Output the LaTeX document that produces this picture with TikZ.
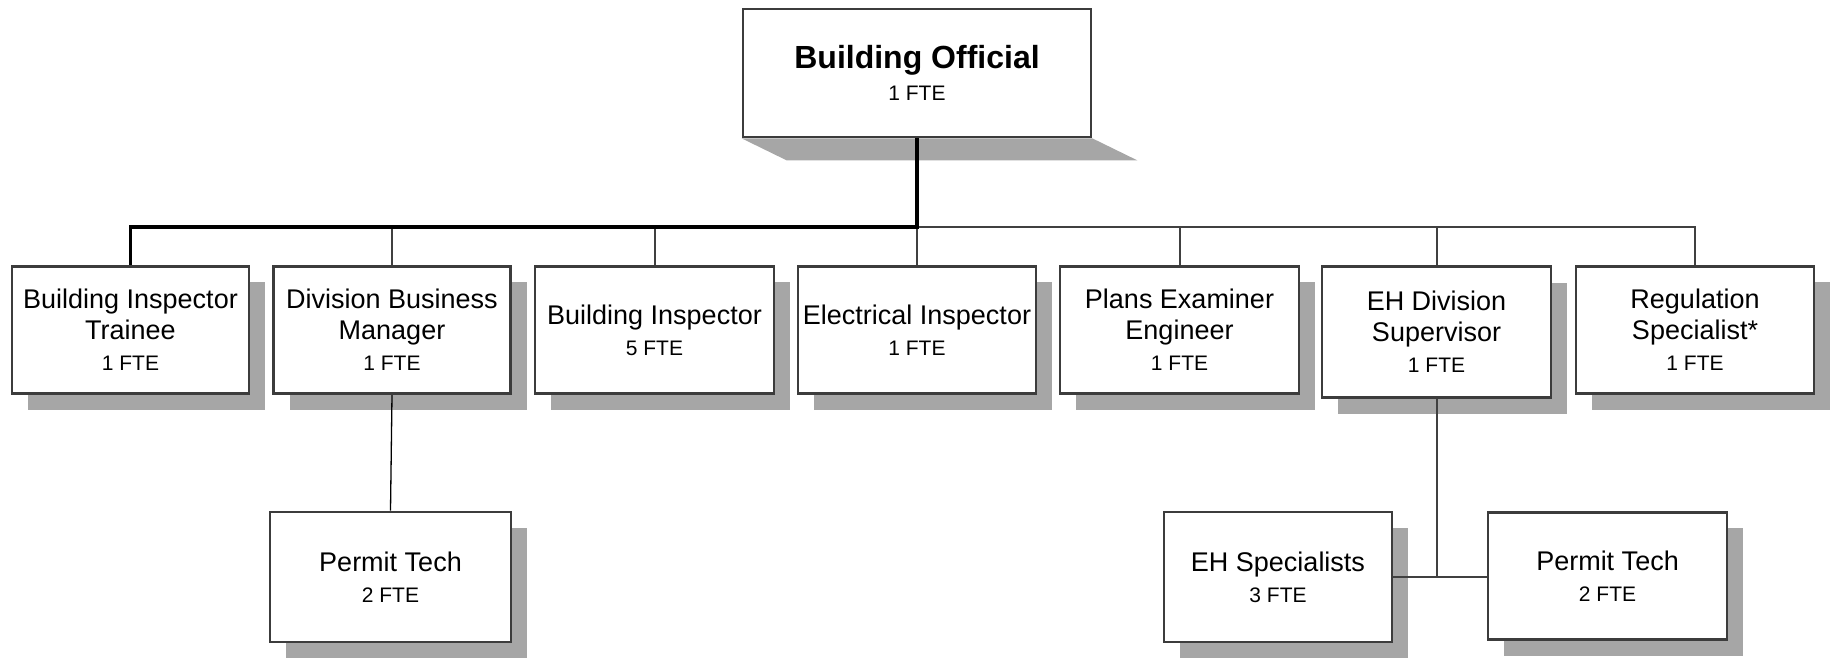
\documentclass[tikz,border=0pt]{standalone}
\usepackage{fontspec}
\setmainfont{Liberation Sans}
\usetikzlibrary{shadows,backgrounds,calc}

\definecolor{boxline}{RGB}{60,60,60}
\definecolor{linkgray}{RGB}{64,64,64}
\definecolor{shadowgray}{RGB}{166,166,166}

\newcommand\ftesmall{\fontsize{21}{31}\selectfont}

\begin{document}
\begin{tikzpicture}[x=1pt,y=-1pt,
  orgbox/.style={draw=boxline, line width=2.7pt, fill=white, inner sep=0pt,
    align=center, font=\fontsize{27}{31}\selectfont,
    drop shadow={shadow xshift=16pt, shadow yshift=-16pt, fill=shadowgray, opacity=1}},
  headbox/.style={draw=boxline, line width=2.7pt, fill=white, inner sep=0pt,
    align=center, font=\fontsize{32}{32}\selectfont\bfseries},
  mainlink/.style={draw=black, line width=3.2pt},
  sublink/.style={draw=linkgray, line width=2pt},
  leaflink/.style={draw=black, line width=1.3pt}]

\useasboundingbox (0,0) rectangle (1833,657);

% head of the division
\node[headbox, minimum width=348pt, minimum height=128pt] (top) at (917,73)
  {Building Official\\\fontsize{21}{32}\selectfont\mdseries 1 FTE};
\begin{pgfonlayer}{background}
  \fill[shadowgray] (top.south west) -- (top.south east)
    -- ($(top.south east)+(45,22)$) -- ($(top.south west)+(45,22)$) -- cycle;
\end{pgfonlayer}

% first level
\node[orgbox, minimum width=237pt, minimum height=127.5pt] (n1) at (130.5,330)
  {Building Inspector\\Trainee\\\ftesmall 1 FTE};
\node[orgbox, minimum width=237pt, minimum height=127.5pt] (n2) at (392,330)
  {Division Business\\Manager\\\ftesmall 1 FTE};
\node[orgbox, minimum width=239pt, minimum height=127.5pt] (n3) at (654.5,330)
  {Building Inspector\\\ftesmall 5 FTE};
\node[orgbox, minimum width=238pt, minimum height=127.5pt] (n4) at (917,330)
  {Electrical Inspector\\\ftesmall 1 FTE};
\node[orgbox, minimum width=239pt, minimum height=127.5pt] (n5) at (1179.5,330)
  {Plans Examiner\\Engineer\\\ftesmall 1 FTE};
\node[orgbox, minimum width=229pt, minimum height=131pt] (n6) at (1436.5,332)
  {EH Division\\Supervisor\\\ftesmall 1 FTE};
\node[orgbox, minimum width=238pt, minimum height=127.5pt] (n7) at (1695,330)
  {Regulation\\Specialist*\\\ftesmall 1 FTE};

% second level
\node[orgbox, minimum width=241pt, minimum height=130pt] (p1) at (390.5,577)
  {Permit Tech\\\ftesmall 2 FTE};
\node[orgbox, minimum width=228pt, minimum height=130pt] (eh) at (1278,577)
  {EH Specialists\\\ftesmall 3 FTE};
\node[orgbox, minimum width=239pt, minimum height=127.5pt] (p2) at (1607.5,576)
  {Permit Tech\\\ftesmall 2 FTE};

% connectors
\coordinate (bus) at (917,227);
\draw[sublink] (bus) -| (n7.north);
\foreach \n in {n2,n3,n4,n5,n6}
  \draw[sublink] (\n.north) -- (\n.north |- bus);
\draw[mainlink] (top.south) -- (bus) -| (n1.north);

\draw[leaflink] (n2.south) -- (p1.north);
\draw[sublink] (n6.south) -- (n6.south |- eh.east);
\draw[sublink] (eh.east) -- (eh.east -| p2.west);
\end{tikzpicture}
\end{document}
